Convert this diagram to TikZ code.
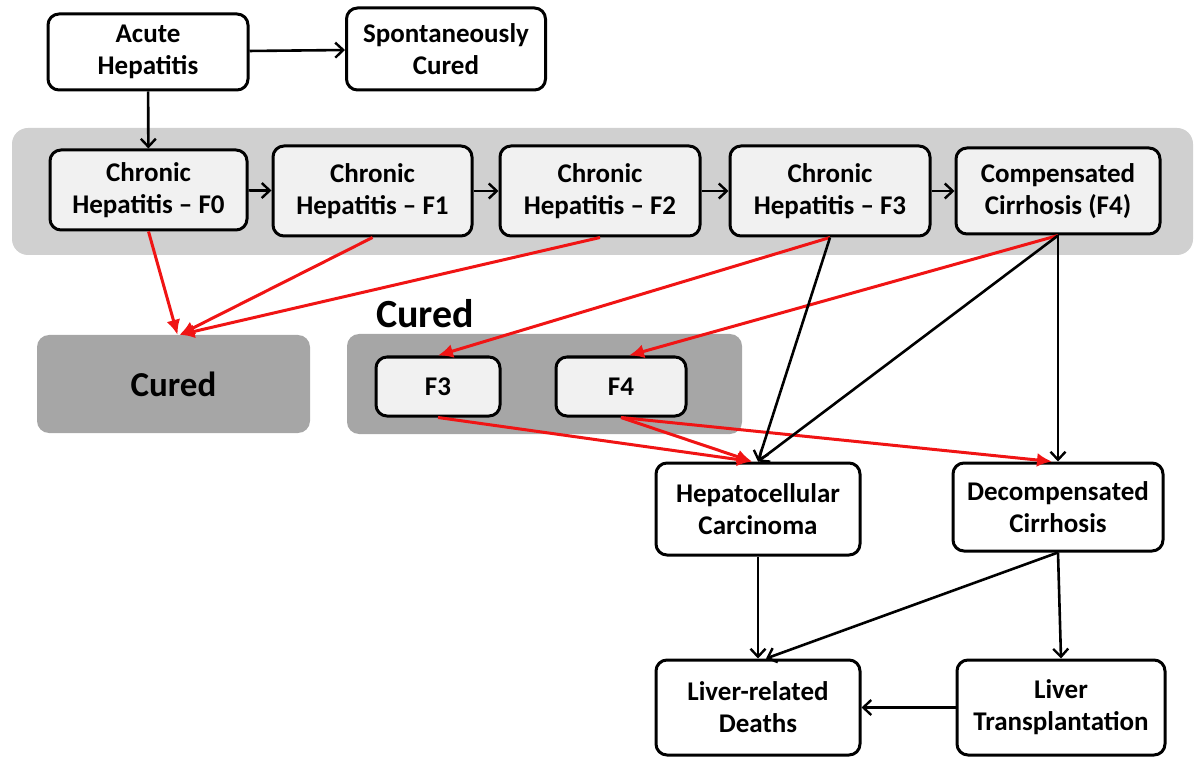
\documentclass[tikz,border=0pt]{standalone}
\usepackage{fontspec}
\setmainfont{Carlito}
\usetikzlibrary{arrows.meta,calc}
\definecolor{bandgray}{RGB}{208,208,208}
\definecolor{darkgray2}{RGB}{166,166,166}
\definecolor{lightbox}{RGB}{241,241,241}
\definecolor{redline}{RGB}{240,20,20}
\tikzset{
  box/.style={draw, line width=3pt, rounded corners=11pt, fill=white, align=center,
    inner sep=0pt, font=\bfseries\fontsize{27}{32}\selectfont},
  lbox/.style={box, fill=lightbox},
  blk/.style={line width=2.6pt, -{Straight Barb[length=8pt,width=15pt,line width=2.4pt]}},
  red/.style={line width=3pt, draw=redline, -{Latex[length=15pt,width=14pt]}},
}
\begin{document}
\begin{tikzpicture}[x=1pt,y=-1pt]
\useasboundingbox (0,0) rectangle (1197,759);
% background groups
\fill[bandgray, rounded corners=16pt] (12,128) rectangle (1193,255);
\node[fill=darkgray2, rounded corners=12pt, minimum width=273pt, minimum height=98pt, inner sep=0pt,
  font=\bfseries\fontsize{35}{40}\selectfont] (cured1) at (173.5,384) {Cured};
\node[fill=darkgray2, rounded corners=12pt, minimum width=395pt, minimum height=100pt, inner sep=0pt] (cgroup) at (544.5,384) {};
\node[font=\bfseries\fontsize{40}{46}\selectfont, anchor=base] (curedlbl) at (425,327) {Cured};
% nodes
\node[box, minimum width=200pt, minimum height=76pt] (acute) at (148,52) {Acute\\Hepatitis};
\node[box, minimum width=199pt, minimum height=82pt] (spont) at (446,49) {Spontaneously\\Cured};
\node[lbox, minimum width=197pt, minimum height=80pt] (f0) at (148.5,190) {Chronic\\Hepatitis -- F0};
\node[lbox, minimum width=199pt, minimum height=90pt] (f1) at (372.5,191) {Chronic\\Hepatitis -- F1};
\node[lbox, minimum width=200pt, minimum height=90pt] (f2) at (600,191) {Chronic\\Hepatitis -- F2};
\node[lbox, minimum width=200pt, minimum height=90pt] (f3) at (830,191) {Chronic\\Hepatitis -- F3};
\node[lbox, minimum width=204pt, minimum height=86pt] (f4) at (1058,191) {Compensated\\Cirrhosis (F4)};
\node[lbox, minimum width=124pt, minimum height=59pt] (c3) at (438,386.5) {F3};
\node[lbox, minimum width=130pt, minimum height=59pt] (c4) at (621,386.5) {F4};
\node[box, minimum width=204pt, minimum height=92pt] (hcc) at (758,509) {Hepatocellular\\Carcinoma};
\node[box, minimum width=210pt, minimum height=88pt] (dec) at (1058,507) {Decompensated\\Cirrhosis};
\node[box, minimum width=204pt, minimum height=95pt] (lrd) at (758,707.5) {Liver-related\\Deaths};
\node[box, minimum width=208pt, minimum height=95pt] (lt) at (1061,707.5) {Liver\\Transplantation};
% black arrows
\draw[blk] (acute) -- (spont);
\draw[blk] (acute) -- (f0);
\draw[blk] (f0) -- (f1);
\draw[blk] (f1) -- (f2);
\draw[blk] (f2) -- (f3);
\draw[blk] (f3) -- (f4);
% red arrows
\draw[red] (f0.south) -- ($(cured1.north)+(4,0)$);
\draw[red] (f1.south) -- ($(cured1.north)+(6,0)$);
\draw[red] (f2.south) -- ($(cured1.north)+(6,0)$);
\draw[red] (f3.south) -- (c3.north);
\draw[red] (f4.south) -- ($(c4.north)+(8,0)$);
\draw[red] (c3.south) -- ($(hcc.north)+(-6,0)$);
\draw[red] (c4.south) -- ($(hcc.north)+(-6,0)$);
\draw[red] (c4.south) -- ($(dec.north)+(-6,0)$);
% black lower arrows
\draw[blk] (f3.south) -- (hcc.north);
\draw[blk] (f4.south) -- (hcc.north);
\draw[blk] (f4.south) -- (dec.north);
\draw[blk] (hcc.south) -- (lrd.north);
\draw[blk] (dec.south) -- ($(lrd.north)+(8,0)$);
\draw[blk] (dec.south) -- (lt.north);
\draw[blk] (lt.west) -- (lrd.east);
\end{tikzpicture}
\end{document}
